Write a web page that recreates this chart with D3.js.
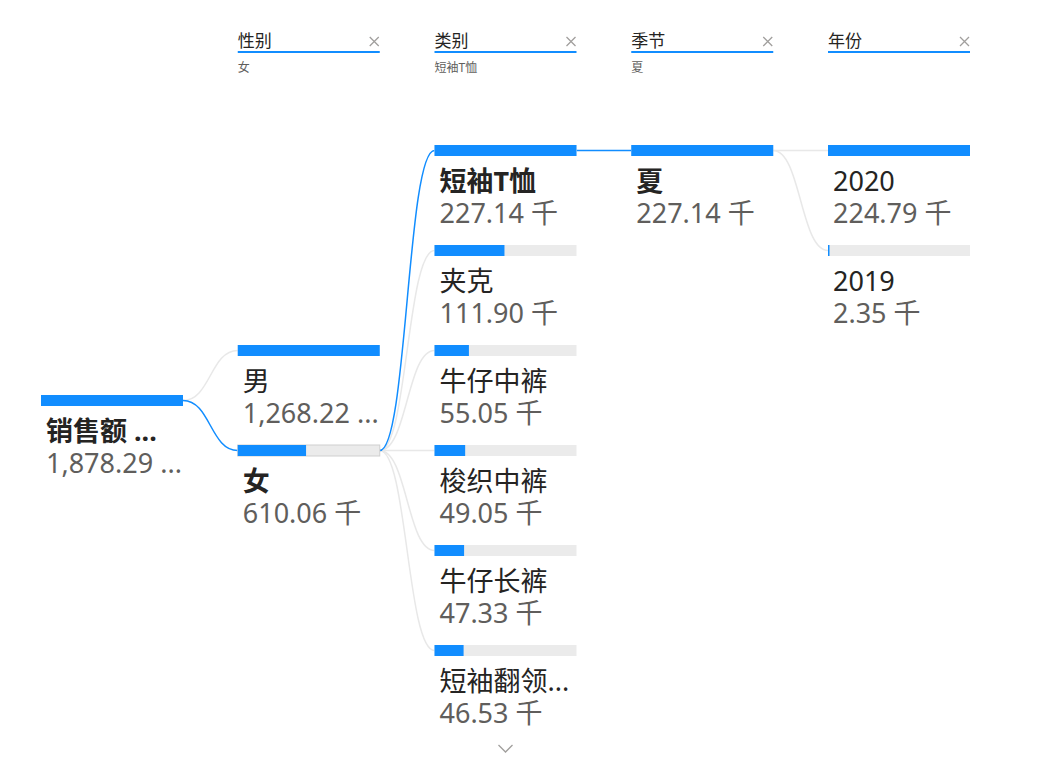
<!DOCTYPE html>
<meta charset="utf-8">
<style>
body { margin: 0; background: #fff; }
text { font-family: "Noto Sans", "Noto Sans CJK SC", sans-serif; }
</style>
<svg></svg>
<script src="https://d3js.org/d3.v7.min.js"></script>
<script>
var width = 1051,
    height = 768;

// data
var levels = ["性别", "类别", "季节", "年份"];
var levelFilters = ["女", "短袖T恤", "夏", ""];

var rootName = "销售额 ...";
var rootValue = 1878.29;

var genders = ["男", "女"];
var genderValues = [1268.22, 610.06];

var categories = ["短袖T恤", "夹克", "牛仔中裤", "梭织中裤", "牛仔长裤", "短袖翻领T恤"];
var categoryValues = [227.14, 111.90, 55.05, 49.05, 47.33, 46.53];

var seasons = ["夏"];
var seasonValues = [227.14];

var years = ["2020", "2019"];
var yearValues = [224.79, 2.35];

var selected = [rootName, "女", "短袖T恤", "夏", null];

var columns = [
  { names: [rootName], values: [rootValue] },
  { names: genders, values: genderValues },
  { names: categories, values: categoryValues },
  { names: seasons, values: seasonValues },
  { names: years, values: yearValues }
];

var blue = "#118dff",
    track = "#ebebeb",
    barW = 142,
    barH = 11,
    slots = 6;

var svg = d3.select("svg")
    .attr("width", width)
    .attr("height", height);

var x = d3.scaleLinear().domain([0, 4]).range([41, 828]);
var slotY = d3.scaleLinear().domain([0, slots]).range([145, 745]);

var fmt = d3.format(",.2f");

// layout: children centred on the selected parent, clamped to the visible slots
var nodes = [], links = [];
var parentSlot = (slots - 1) / 2;
columns.forEach(function(col, ci) {
  var n = col.names.length;
  var start = ci === 0 ? parentSlot : Math.max(0, Math.min(slots - n, parentSlot - (n - 1) / 2));
  var w = d3.scaleLinear().domain([0, d3.max(col.values)]).range([0, barW]);
  var colNodes = col.names.map(function(name, i) {
    return {
      col: ci, name: name, value: col.values[i],
      slot: start + i,
      fill: w(col.values[i]),
      selected: name === selected[ci]
    };
  });
  nodes = nodes.concat(colNodes);
  if (ci > 0) {
    var parent = nodes.filter(function(d) { return d.col === ci - 1 && d.selected; })[0];
    colNodes.forEach(function(d) {
      links.push({ source: parent, target: d, active: d.selected });
    });
  }
  var sel = colNodes.filter(function(d) { return d.selected; })[0];
  if (sel) parentSlot = sel.slot;
});

// header filters
var header = svg.append("g").selectAll("g")
    .data(levels)
  .join("g")
    .attr("transform", function(d, i) { return "translate(" + x(i + 1) + ",0)"; });

header.append("text")
    .attr("y", 47)
    .attr("font-size", 17)
    .attr("fill", "#252423")
    .text(function(d) { return d; });

header.append("rect")
    .attr("y", 51)
    .attr("width", barW)
    .attr("height", 2)
    .attr("fill", blue);

header.append("path")
    .attr("d", "M132,37L141,46M141,37L132,46")
    .attr("stroke", "#a19f9d")
    .attr("stroke-width", 1.3);

header.append("text")
    .attr("y", 72)
    .attr("font-size", 12)
    .attr("fill", "#605e5c")
    .text(function(d, i) { return levelFilters[i]; });

// links
var link = d3.linkHorizontal()
    .x(function(d) { return d[0]; })
    .y(function(d) { return d[1]; });

svg.append("g")
    .attr("fill", "none")
  .selectAll("path")
    .data(links.slice().sort(function(a, b) { return a.active - b.active; }))
  .join("path")
    .attr("stroke", function(d) { return d.active ? blue : "#e8e8e8"; })
    .attr("stroke-width", 1.5)
    .attr("d", function(d) {
      return link({
        source: [x(d.source.col) + barW, slotY(d.source.slot) + barH / 2],
        target: [x(d.target.col), slotY(d.target.slot) + barH / 2]
      });
    });

// nodes
var node = svg.append("g").selectAll("g")
    .data(nodes)
  .join("g")
    .attr("transform", function(d) { return "translate(" + x(d.col) + "," + slotY(d.slot) + ")"; });

node.append("rect")
    .attr("width", barW)
    .attr("height", barH)
    .attr("fill", track)
    .attr("stroke", function(d) { return d.selected && d.fill < barW ? "#cfcfcf" : "none"; });

node.append("rect")
    .attr("width", function(d) { return Math.max(1.5, d.fill); })
    .attr("height", barH)
    .attr("fill", blue);

node.append("text")
    .attr("x", 5)
    .attr("y", 46)
    .attr("font-size", 27)
    .attr("font-weight", function(d) { return d.selected ? "bold" : "normal"; })
    .attr("fill", "#252423")
    .text(function(d) { return d.name; })
    .each(truncate);

node.append("text")
    .attr("x", 5)
    .attr("y", 78)
    .attr("font-size", 27)
    .attr("fill", "#605e5c")
    .text(function(d) { return fmt(d.value) + " 千"; })
    .each(truncate);

// more items below in the category column
svg.append("path")
    .attr("d", "M" + (x(2) + 64) + ",745l7,7l7,-7")
    .attr("fill", "none")
    .attr("stroke", "#a19f9d")
    .attr("stroke-width", 1.3);

function truncate() {
  var t = d3.select(this), s = t.text(), max = barW - 6;
  if (this.getComputedTextLength() <= max) return;
  while (s.length > 0) {
    s = s.slice(0, -1);
    t.text(s + "...");
    if (this.getComputedTextLength() <= max) break;
  }
}
</script>
